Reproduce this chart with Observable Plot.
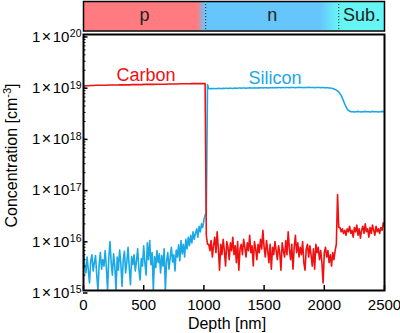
<!DOCTYPE html>
<html><head><meta charset="utf-8">
<script src="https://cdn.jsdelivr.net/npm/d3@7"></script>
<script src="https://cdn.jsdelivr.net/npm/@observablehq/plot@0.6"></script>
<style>
html,body{margin:0;padding:0;background:#fff;}
#chart{position:relative;width:400px;height:333px;}
#chart svg{position:absolute;left:0;top:0;}
</style></head><body><div id="chart"></div>
<script>
// ---- band (layer structure) ----
const regions = ["p", "n", "Sub."];
const regionStart = [0, 1015, 2120];
const regionEnd = [1015, 2120, 2500];
const fadeStart = [945, 1970];
const regionColors = ["#ff7b80", "#66c6fc", "#66f5f5"];

// ---- profile (depth grid step in nm) ----
const depthStep = 10;
const carbon = [
9.9e18,9.9e18,1.0e19,1.0e19,1.0e19,1.0e19,1.01e19,1.01e19,1.01e19,1.01e19,
1.02e19,1.02e19,1.02e19,1.02e19,1.02e19,1.02e19,1.02e19,1.02e19,1.02e19,1.02e19,
1.03e19,1.03e19,1.03e19,1.03e19,1.03e19,1.03e19,1.03e19,1.03e19,1.03e19,1.03e19,
1.04e19,1.04e19,1.04e19,1.04e19,1.04e19,1.04e19,1.04e19,1.04e19,1.04e19,1.04e19,
1.05e19,1.05e19,1.05e19,1.05e19,1.05e19,1.05e19,1.05e19,1.05e19,1.05e19,1.05e19,
1.06e19,1.06e19,1.06e19,1.06e19,1.06e19,1.06e19,1.06e19,1.06e19,1.06e19,1.06e19,
1.07e19,1.07e19,1.07e19,1.07e19,1.07e19,1.07e19,1.07e19,1.07e19,1.07e19,1.07e19,
1.08e19,1.08e19,1.08e19,1.08e19,1.08e19,1.08e19,1.08e19,1.08e19,1.08e19,1.08e19,
1.09e19,1.09e19,1.09e19,1.09e19,1.09e19,1.09e19,1.09e19,1.09e19,1.09e19,1.09e19,
1.1e19,1.1e19,1.1e19,1.1e19,1.1e19,1.1e19,1.1e19,1.1e19,1.1e19,1.1e19,
1.1e19,1.1e19,
1.2e16,8e15,
8e15,6e15,9.5e15,4.5e15,7.5e15,11e15,5.5e15,14e15,6.5e15,2.5e15,
8e15,5e15,10e15,6e15,3e15,9e15,7e15,4e15,8.5e15,6e15,
11e15,5e15,7.5e15,3.5e15,9e15,2.5e15,6.5e15,8e15,5e15,10e15,
7e15,4.5e15,8.5e15,6e15,12e15,5.5e15,7.5e15,3e15,9e15,6.5e15,
4e15,8e15,5.5e15,10e15,6.5e15,15e15,7e15,4.5e15,9.5e15,6e15,
3.5e15,8e15,2.6e15,7e15,5e15,9e15,6e15,4e15,7.5e15,5.5e15,
2.5e15,8.5e15,6e15,4.5e15,9.5e15,5e15,14e15,6.5e15,4e15,8e15,
2.6e15,7e15,12e15,5.5e15,8.5e15,4.5e15,7e15,5e15,9e15,3.5e15,
2.5e15,6.5e15,8e15,4.5e15,7.5e15,5e15,3e15,6.5e15,2.6e15,8e15,
5.5e15,7e15,4e15,6e15,3.5e15,1.4e15,5.5e15,7e15,4.5e15,6e15,
3.5e15,5e15,3e15,5.5e15,4e15,6e15,8e15,
75e15,17e15,
17e15,14e15,16e15,13e15,15e15,12e15,16e15,14e15,18e15,13e15,
15e15,11e15,17e15,14e15,19e15,12e15,16e15,10.5e15,15e15,18e15,
13e15,20e15,14e15,16e15,11e15,17e15,13e15,19e15,15e15,12e15,
18e15,14e15,16e15,13e15,17e15,15e15,21e15,18e15
];
const silicon = [
6.5e15,3e15,2.2e15,4.5e15,2.5e15,1.4e15,3.8e15,5e15,2.4e15,3.5e15,
4.8e15,2e15,1e15,3.2e15,5.5e15,2.6e15,4e15,3e15,6e15,2.8e15,
1e15,4.2e15,9e15,3.5e15,2e15,5.2e15,3e15,1e15,4.5e15,2.5e15,
6.2e15,3.4e15,1.2e15,4e15,5.8e15,2.2e15,3.6e15,7e15,2.8e15,1.3e15,
4.6e15,3.2e15,5e15,2.4e15,3.8e15,6.5e15,2.6e15,1.6e15,4.2e15,3e15,
7.5e15,3.4e15,2e15,8.5e15,4e15,9.5e15,3.2e15,5.5e15,1e15,4.6e15,
2.8e15,6e15,3.5e15,5.2e15,2.2e15,4.8e15,3e15,6.5e15,1e15,3.8e15,
5.5e15,2.6e15,4.4e15,7e15,3.6e15,5e15,2.4e15,6.2e15,4.5e15,7.8e15,
3.8e15,9.5e15,5.2e15,8e15,4.5e15,10e15,6.5e15,11e15,7.5e15,12e15,
8.5e15,14e15,10e15,13e15,16e15,11e15,18e15,14e15,20e15,17e15,
24e15,30e15,
3.2e16,1.05e19,8.8e18,
8.7e18,8.8e18,8.7e18,8.8e18,8.8e18,8.7e18,8.8e18,8.9e18,8.8e18,8.8e18,
8.8e18,8.9e18,8.8e18,8.9e18,8.9e18,8.8e18,8.9e18,8.9e18,8.9e18,8.8e18,
8.9e18,9.0e18,8.9e18,8.9e18,9.0e18,9.0e18,8.9e18,9.0e18,9.0e18,9.0e18,
8.9e18,9.0e18,9.0e18,9.1e18,9.0e18,9.0e18,9.0e18,9.1e18,9.0e18,9.0e18,
9.1e18,9.0e18,9.1e18,9.1e18,9.0e18,9.1e18,9.1e18,9.1e18,9.0e18,9.1e18,
9.1e18,9.1e18,9.2e18,9.1e18,9.1e18,9.2e18,9.1e18,9.2e18,9.2e18,9.1e18,
9.2e18,9.2e18,9.1e18,9.2e18,9.2e18,9.2e18,9.1e18,9.2e18,9.2e18,9.2e18,
9.2e18,9.1e18,9.2e18,9.2e18,9.3e18,9.2e18,9.2e18,9.2e18,9.1e18,9.2e18,
9.2e18,9.2e18,9.3e18,9.2e18,9.2e18,9.2e18,9.2e18,9.1e18,9.2e18,9.2e18,
9.2e18,9.2e18,9.1e18,9.2e18,9.2e18,9.1e18,9.1e18,9.1e18,9.1e18,9.0e18,
9.0e18,8.9e18,8.8e18,8.6e18,8.4e18,8.2e18,7.9e18,7.5e18,7.0e18,6.4e18,
5.7e18,5.0e18,4.4e18,3.9e18,3.5e18,3.3e18,3.2e18,3.1e18,
3.1e18,3.1e18,3.05e18,3.1e18,3.1e18,3.15e18,3.1e18,3.1e18,3.05e18,3.1e18,
3.1e18,3.15e18,3.1e18,3.1e18,3.1e18,3.05e18,3.1e18,3.15e18,3.1e18,3.1e18,
3.1e18,3.1e18,3.05e18,3.1e18,3.1e18,3.15e18,3.1e18,3.1e18
];

const seriesNames = ["Carbon", "Silicon"];
const seriesColors = ["#f01010", "#1aa8e6"];
const labelDepth = [520, 1590];
const labelConc = [1.6e19, 1.4e19];

const xTicks = [0, 500, 1000, 1500, 2000, 2500];
const yTickExponents = [15, 16, 17, 18, 19, 20];
const minorMultipliers = [2, 3, 4, 5, 6, 7, 8, 9];
const xLabel = "Depth [nm]";
const yLabelParts = ["Concentration [cm", "-3", "]"];

// ---- build ----
const rows = carbon.map((c, i) => ({depth: i * depthStep, carbon: c, silicon: silicon[i]}));
const yMajor = yTickExponents.map(e => Math.pow(10, e));
const yMinor = yTickExponents.slice(0, -1).flatMap(e => minorMultipliers.map(m => m * Math.pow(10, e)));
const font = "'Liberation Sans', Arial, sans-serif";

const bandDefs = () => {
  const defs = d3.create("svg:defs");
  regions.forEach((r, i) => {
    const g = defs.append("linearGradient").attr("id", "bandGrad" + i)
      .attr("x1", 0).attr("x2", 1).attr("y1", 0).attr("y2", 0);
    const next = regionColors[i + 1] ?? regionColors[i];
    const f = fadeStart[i] !== undefined ? (fadeStart[i] - regionStart[i]) / (regionEnd[i] - regionStart[i]) : 1;
    g.append("stop").attr("offset", 0).attr("stop-color", regionColors[i]);
    g.append("stop").attr("offset", f).attr("stop-color", regionColors[i]);
    g.append("stop").attr("offset", 1).attr("stop-color", next);
  });
  return defs.node();
};

const band = Plot.plot({
  width: 400, height: 32,
  marginLeft: 83, marginRight: 16, marginTop: 1, marginBottom: 1.5,
  x: {domain: [0, 2500], axis: null},
  style: {background: "transparent", fontFamily: font, color: "black", overflow: "visible"},
  marks: [
    bandDefs,
    ...regions.map((r, i) => Plot.rect([r], {x1: () => regionStart[i], x2: () => regionEnd[i], fill: `url(#bandGrad${i})`})),
    Plot.ruleX(regionStart.slice(1), {stroke: "#222", strokeWidth: 1, strokeDasharray: "1.2,1.8"}),
    Plot.text(regions, {x: (d, i) => (regionStart[i] + regionEnd[i]) / 2, frameAnchor: "middle", fontSize: 18, dy: -1, fill: "#222"}),
    Plot.frame({stroke: "black", strokeWidth: 1.5})
  ]
});

const main = Plot.plot({
  width: 400, height: 333,
  marginLeft: 83, marginRight: 16, marginTop: 34, marginBottom: 43,
  style: {background: "transparent", fontFamily: font, color: "black", overflow: "visible"},
  x: {domain: [0, 2500]},
  y: {type: "log", domain: [1e15, 1e20]},
  marks: [
    Plot.line(rows, {x: "depth", y: "silicon", stroke: seriesColors[1], strokeWidth: 1.6, clip: true}),
    Plot.line(rows, {x: "depth", y: "carbon", stroke: seriesColors[0], strokeWidth: 1.6, clip: true}),
    Plot.text(seriesNames, {x: (d, i) => labelDepth[i], y: (d, i) => labelConc[i], fill: (d, i) => seriesColors[i], fontSize: 18}),
    Plot.axisX({ticks: xTicks, tickSize: -5, tickPadding: 14, tickFormat: d3.format("d"), fontSize: 15, label: null, strokeWidth: 1.5}),
    Plot.axisY({ticks: yMajor, tickSize: -4.5, tickPadding: 6.5, tickFormat: d => "1×10^" + Math.round(Math.log10(d)), fontSize: 15, dy: 2.5, label: null, strokeWidth: 1.5}),
    Plot.axisY({ticks: yMinor, tickSize: -2.5, tickFormat: () => "", label: null, strokeWidth: 1}),
    Plot.text([xLabel], {frameAnchor: "bottom", dy: 38, dx: -7, fontSize: 16}),
    Plot.text([yLabelParts.join("^")], {frameAnchor: "left", rotate: -90, dx: -78, dy: -7, lineAnchor: "top", textAnchor: "middle", fontSize: 16}),
    Plot.frame({stroke: "black", strokeWidth: 2})
  ]
});

// superscripts
d3.select(main).selectAll('g[aria-label="y-axis tick label"] text').each(function () {
  const [base, exp] = this.textContent.split("^");
  if (exp === undefined) return;
  const sel = d3.select(this).text(null);
  const parts = base.split("×");
  sel.append("tspan").text(parts[0]);
  sel.append("tspan").attr("dx", 1.5).attr("font-size", 16).text("×");
  sel.append("tspan").attr("dx", 1.5).text(parts[1]);
  sel.append("tspan").attr("dy", -4.5).attr("dx", 0.5).attr("font-size", 10.5).text(exp);
});
d3.select(main).selectAll("text")
  .filter(function () { return this.textContent === yLabelParts.join("^"); })
  .each(function () {
    const sel = d3.select(this).text(null);
    sel.append("tspan").text(yLabelParts[0]);
    sel.append("tspan").attr("dy", -6).attr("font-size", 11).text(yLabelParts[1]);
    sel.append("tspan").attr("dy", 6).text(yLabelParts[2]);
  });

const root = document.getElementById("chart");
root.appendChild(main);
root.appendChild(band);
</script></body></html>
